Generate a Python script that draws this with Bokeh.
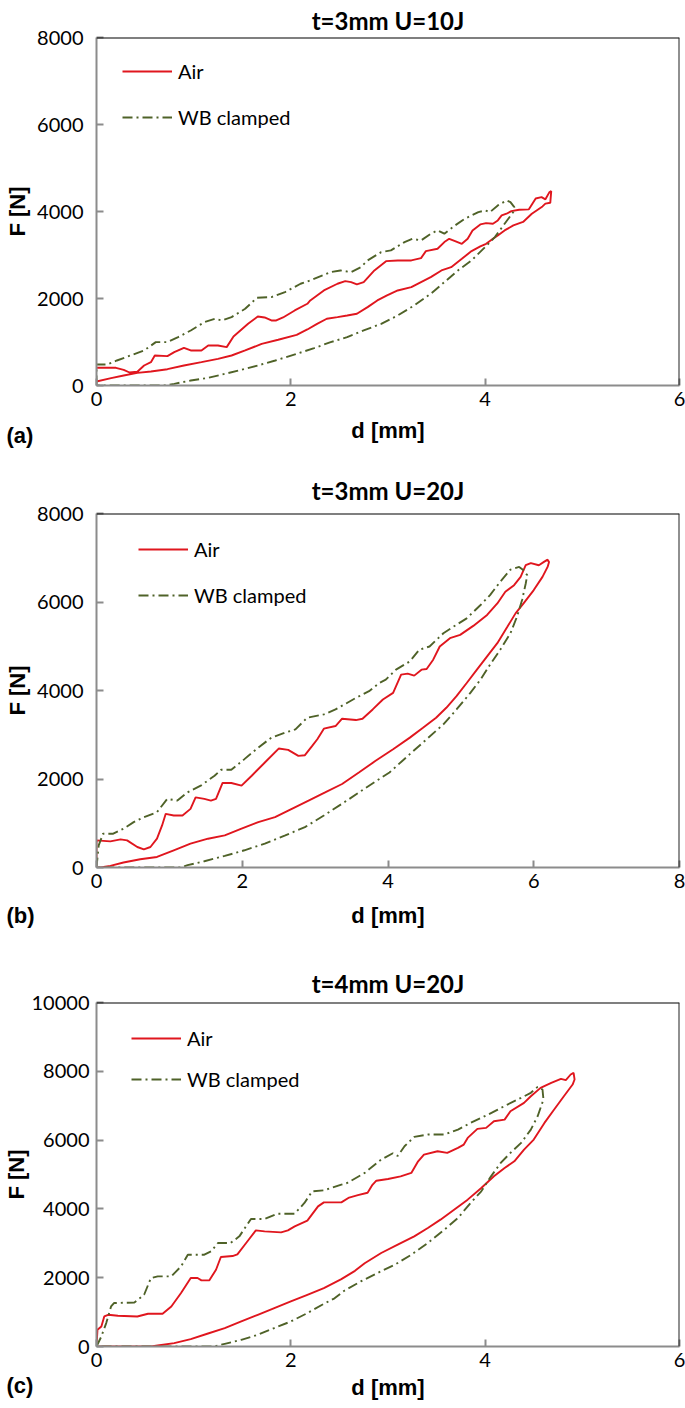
from bokeh.plotting import figure
from bokeh.layouts import column
from bokeh.models import (Range1d, FixedTicker, Legend, LegendItem, Span, Title,
                          NumeralTickFormatter)
from bokeh.embed import file_html
from bokeh.resources import INLINE

# ---------------- data ----------------
titles = ["t=3mm U=10J", "t=3mm U=20J", "t=4mm U=20J"]
tags = ["(a)", "(b)", "(c)"]
series_names = ["Air", "WB clamped"]
x_label = "d [mm]"
y_label = "F [N]"

a_x_ticks = [0, 2, 4, 6]
a_y_ticks = [0, 2000, 4000, 6000, 8000]
b_x_ticks = [0, 2, 4, 6, 8]
b_y_ticks = [0, 2000, 4000, 6000, 8000]
c_x_ticks = [0, 2, 4, 6]
c_y_ticks = [0, 2000, 4000, 6000, 8000, 10000]

a_air_d = [0, 0.20, 0.28, 0.34, 0.42, 0.49, 0.56, 0.60, 0.73, 0.80, 0.90, 0.97, 1.08, 1.15, 1.25, 1.34, 1.41, 1.56, 1.66, 1.73,
           1.80, 1.85, 1.92, 2.04, 2.17, 2.20, 2.34, 2.48, 2.56, 2.62, 2.68, 2.75, 2.86, 2.98, 3.10, 3.24, 3.34, 3.39, 3.51, 3.58,
           3.63, 3.69, 3.76, 3.82, 3.87, 3.95, 4.01, 4.08, 4.13, 4.17, 4.22, 4.27, 4.35, 4.45, 4.52, 4.58, 4.62, 4.66, 4.68, 4.67,
           4.62, 4.59, 4.48, 4.39, 4.29, 4.20, 4.13, 4.08, 4.01, 3.95, 3.86, 3.76, 3.65, 3.55, 3.44, 3.34, 3.24, 3.10, 2.99, 2.89,
           2.79, 2.68, 2.58, 2.48, 2.37, 2.27, 2.17, 2.06, 1.87, 1.70, 1.53, 1.39, 1.25, 1.08, 0.90, 0.73, 0.56, 0.42, 0.28, 0.15, 0]
a_air_F = [407, 407, 361, 299, 315, 460, 536, 690, 675, 766, 866, 805, 805, 920, 920, 882, 1127, 1418, 1587, 1564,
           1495, 1495, 1564, 1725, 1879, 1955, 2185, 2339, 2400, 2377, 2323, 2377, 2645, 2859, 2875, 2875, 2929, 3090, 3143, 3297,
           3373, 3320, 3258, 3373, 3565, 3703, 3733, 3718, 3795, 3910, 3949, 4009, 4040, 4050, 4300, 4330, 4280, 4440, 4470, 4200,
           4180, 4117, 3949, 3760, 3680, 3565, 3450, 3373, 3258, 3197, 3090, 2913, 2721, 2645, 2491, 2377, 2261, 2185, 2070, 1955,
           1802, 1649, 1610, 1572, 1534, 1418, 1288, 1165, 1051, 958, 805, 690, 613, 536, 460, 375, 322, 291, 230, 168, 92]

a_wb_d = [0, 0, 0.11, 0.21, 0.35, 0.49, 0.61, 0.73, 0.84, 0.97, 1.11, 1.22, 1.29, 1.39, 1.53, 1.65, 1.80, 1.94, 2.10, 2.20,
          2.41, 2.51, 2.62, 2.72, 2.79, 2.93, 3.03, 3.17, 3.25, 3.34, 3.44, 3.51, 3.58, 3.69, 3.79, 3.93, 4.00, 4.05, 4.13, 4.22,
          4.26, 4.30, 4.29, 4.20, 4.10, 4.00, 3.86, 3.72, 3.58, 3.44, 3.27, 3.10, 2.93, 2.75, 2.58, 2.41, 2.24, 2.06, 1.84, 1.66,
          1.49, 1.32, 1.15, 0.97, 0.80, 0.70, 0]
a_wb_F = [0, 483, 483, 575, 690, 805, 997, 997, 1112, 1265, 1457, 1534, 1495, 1572, 1764, 2016, 2032, 2147, 2339, 2415,
          2606, 2645, 2606, 2721, 2875, 3066, 3105, 3297, 3373, 3335, 3489, 3565, 3489, 3680, 3833, 3987, 4025, 3987, 4140, 4255,
          4217, 4100, 3990, 3718, 3412, 3182, 2875, 2645, 2376, 2109, 1840, 1610, 1418, 1265, 1112, 997, 859, 728, 575, 460,
          360, 268, 176, 115, 38, 0, 0]

b_air_d = [0, 0, 0.19, 0.33, 0.42, 0.56, 0.65, 0.74, 0.83, 0.90, 0.95, 1.06, 1.18, 1.29, 1.36, 1.48, 1.57, 1.64, 1.73, 1.85,
           1.99, 2.13, 2.31, 2.50, 2.63, 2.77, 2.86, 2.96, 3.03, 3.12, 3.28, 3.37, 3.56, 3.65, 3.79, 3.93, 4.07, 4.18, 4.27, 4.36,
           4.46, 4.53, 4.62, 4.71, 4.85, 4.99, 5.17, 5.36, 5.50, 5.61, 5.73, 5.82, 5.89, 5.96, 6.07, 6.14, 6.19, 6.21, 6.19, 6.12,
           6.00, 5.86, 5.75, 5.64, 5.50, 5.36, 5.22, 5.08, 4.94, 4.80, 4.66, 4.48, 4.30, 4.07, 3.83, 3.60, 3.37, 3.13, 2.91, 2.68,
           2.45, 2.22, 1.99, 1.76, 1.53, 1.29, 1.06, 0.83, 0.60, 0.37, 0.19, 0.05, 0]
b_air_F = [0, 613, 591, 636, 613, 463, 411, 463, 651, 951, 1213, 1176, 1176, 1325, 1586, 1550, 1512, 1550, 1910, 1910,
           1849, 2074, 2373, 2688, 2658, 2523, 2538, 2748, 2898, 3137, 3197, 3362, 3332, 3362, 3572, 3797, 3946, 4359, 4381, 4336,
           4471, 4486, 4696, 4995, 5182, 5257, 5460, 5707, 5968, 6231, 6381, 6568, 6831, 6880, 6831, 6906, 6957, 6906, 6793, 6568,
           6269, 5968, 5743, 5444, 5069, 4770, 4471, 4170, 3872, 3609, 3384, 3159, 2935, 2673, 2411, 2148, 1887, 1690, 1512, 1325,
           1137, 1025, 876, 726, 651, 539, 389, 238, 186, 112, 36, 0, 0]

b_wb_d = [0, 0.03, 0.09, 0.23, 0.37, 0.51, 0.65, 0.83, 0.97, 1.11, 1.25, 1.43, 1.62, 1.71, 1.85, 2.03, 2.22, 2.40, 2.59, 2.73,
          2.89, 3.12, 3.28, 3.56, 3.74, 3.88, 3.97, 4.11, 4.30, 4.43, 4.57, 4.76, 4.90, 5.08, 5.27, 5.40, 5.54, 5.68, 5.80, 5.86,
          5.91, 5.89, 5.84, 5.77, 5.68, 5.54, 5.40, 5.27, 5.13, 4.94, 4.76, 4.53, 4.30, 4.02, 3.74, 3.47, 3.12, 2.86, 2.59, 2.31,
          2.03, 1.76, 1.48, 1.25, 1.16, 0]
b_wb_F = [0, 501, 764, 764, 876, 1025, 1137, 1250, 1550, 1512, 1699, 1849, 2074, 2209, 2209, 2449, 2710, 2935, 3047, 3122,
          3384, 3460, 3572, 3833, 3984, 4170, 4245, 4471, 4658, 4921, 4995, 5294, 5444, 5631, 5932, 6157, 6456, 6732, 6793, 6718,
          6606, 6418, 6044, 5669, 5294, 4921, 4584, 4247, 3946, 3572, 3236, 2898, 2562, 2148, 1849, 1550, 1175, 912, 726, 539,
          389, 261, 142, 52, 0, 0]

c_air_d = [0, 0.01, 0.05, 0.08, 0.12, 0.22, 0.42, 0.53, 0.68, 0.77, 0.87, 0.97, 1.04, 1.08, 1.16, 1.23, 1.28, 1.40, 1.45, 1.54,
           1.64, 1.73, 1.90, 1.97, 2.04, 2.17, 2.28, 2.34, 2.52, 2.60, 2.69, 2.79, 2.84, 2.88, 3.00, 3.13, 3.24, 3.31, 3.37, 3.51,
           3.61, 3.72, 3.78, 3.82, 3.92, 4.01, 4.09, 4.20, 4.26, 4.40, 4.47, 4.57, 4.68, 4.78, 4.83, 4.88, 4.91, 4.92, 4.90, 4.81,
           4.71, 4.61, 4.50, 4.40, 4.30, 4.20, 4.09, 3.96, 3.82, 3.68, 3.54, 3.41, 3.27, 3.10, 2.93, 2.76, 2.66, 2.52, 2.34, 2.17,
           2.00, 1.83, 1.66, 1.49, 1.32, 1.14, 0.97, 0.80, 0.63, 0.56, 0]
c_air_F = [0, 486, 582, 873, 921, 893, 873, 951, 951, 1164, 1554, 1990, 1990, 1921, 1921, 2232, 2601, 2630, 2680, 3009,
           3376, 3346, 3317, 3376, 3492, 3658, 4074, 4190, 4190, 4330, 4400, 4470, 4700, 4820, 4870, 4947, 5046, 5384, 5578, 5676,
           5627, 5773, 5870, 6064, 6326, 6355, 6548, 6596, 6839, 7083, 7275, 7519, 7665, 7781, 7743, 7907, 7956, 7762, 7615, 7275,
           6888, 6500, 6015, 5724, 5384, 5191, 4947, 4609, 4269, 3978, 3687, 3445, 3201, 2959, 2718, 2420, 2200, 1960, 1699, 1504,
           1310, 1117, 922, 728, 535, 370, 215, 99, 29, 0, 0]

c_wb_d = [0, 0.05, 0.10, 0.15, 0.18, 0.39, 0.49, 0.56, 0.63, 0.77, 0.87, 0.94, 1.11, 1.18, 1.25, 1.38, 1.47, 1.59, 1.73, 1.86,
          2.04, 2.14, 2.22, 2.34, 2.52, 2.58, 2.76, 2.93, 3.05, 3.10, 3.17, 3.27, 3.41, 3.58, 3.72, 3.85, 4.03, 4.13, 4.23, 4.37,
          4.47, 4.54, 4.59, 4.60, 4.54, 4.47, 4.37, 4.26, 4.16, 4.06, 3.96, 3.85, 3.72, 3.58, 3.41, 3.24, 3.07, 2.89, 2.72, 2.55,
          2.45, 2.34, 2.17, 2.00, 1.83, 1.66, 1.49, 1.32, 1.21, 0]
c_wb_F = [0, 291, 681, 1164, 1263, 1280, 1504, 1990, 2038, 2038, 2328, 2668, 2668, 2765, 3009, 3009, 3202, 3707, 3707, 3861,
          3861, 4173, 4511, 4540, 4705, 4754, 5046, 5433, 5617, 5540, 5820, 6093, 6161, 6161, 6306, 6500, 6742, 6888, 7034, 7228,
          7374, 7548, 7470, 7179, 6693, 6306, 5919, 5628, 5337, 4947, 4511, 4173, 3736, 3396, 3009, 2668, 2377, 2135, 1892, 1620,
          1400, 1240, 971, 728, 535, 340, 195, 78, 0, 0]

# ---------------- styling ----------------
RED = "#e0161e"
GREEN = "#4f6228"
AXIS_GREY = "#8c8c8c"
TICK_FONT = "Lato"
BOLD_FONT = "Liberation Sans"
FIG_W = 685
B_LEFT = 96
B_RIGHT = 6


def make_panel(title, tag, air_d, air_F, wb_d, wb_F, xticks, yticks,
               height, b_top, b_bottom, title_standoff, leg_x, leg_top, leg_spacing,
               xtick_standoff, xlab_standoff, ytick_standoff, ylab_standoff, tag_standoff):
    xmax, ymax = xticks[-1], yticks[-1]
    p = figure(width=FIG_W, height=height, output_backend="svg", toolbar_location=None,
               x_range=Range1d(0, xmax), y_range=Range1d(0, ymax),
               min_border_left=B_LEFT, min_border_right=B_RIGHT,
               min_border_top=b_top, min_border_bottom=b_bottom,
               background_fill_color="white", border_fill_color="white")
    frame_h = height - b_top - b_bottom
    p.outline_line_color = None
    p.grid.visible = False

    p.xaxis.ticker = FixedTicker(ticks=xticks)
    p.yaxis.ticker = FixedTicker(ticks=yticks)
    p.xaxis.formatter = NumeralTickFormatter(format="0")
    p.yaxis.formatter = NumeralTickFormatter(format="0")
    for ax in (p.xaxis[0], p.yaxis[0]):
        ax.axis_line_color = AXIS_GREY
        ax.axis_line_width = 2
        ax.major_tick_line_color = AXIS_GREY
        ax.major_tick_line_width = 2
        ax.major_tick_in = 7
        ax.major_tick_out = 0
        ax.minor_tick_line_color = None
        ax.major_label_text_font = TICK_FONT
        ax.major_label_text_font_size = "20px"
        ax.major_label_text_color = "black"
        ax.axis_label_text_font = BOLD_FONT
        ax.axis_label_text_font_style = "bold"
        ax.axis_label_text_font_size = "22px"
        ax.axis_label_text_color = "black"
    p.xaxis.axis_label = x_label
    p.yaxis.axis_label = y_label
    p.yaxis.major_label_standoff = ytick_standoff
    p.yaxis.axis_label_standoff = ylab_standoff
    p.xaxis.major_label_standoff = xtick_standoff
    p.xaxis.axis_label_standoff = xlab_standoff

    # top and right frame edges
    p.add_layout(Span(location=ymax, dimension="width", line_color="black", line_width=2))
    p.add_layout(Span(location=xmax, dimension="height", line_color="#222222", line_width=2))

    r_air = p.line(air_d, air_F, line_color=RED, line_width=1.9)
    r_wb = p.line(wb_d, wb_F, line_color=GREEN, line_width=1.9, line_dash="10 4 2 4")

    item_h = 24
    leg_h = 2 * item_h + leg_spacing
    legend = Legend(items=[LegendItem(label=series_names[0], renderers=[r_air]),
                           LegendItem(label=series_names[1], renderers=[r_wb])],
                    location=(leg_x, frame_h - leg_top - leg_h),
                    orientation="vertical", spacing=leg_spacing, padding=0, margin=0,
                    border_line_color=None, background_fill_alpha=0,
                    label_text_font=TICK_FONT, label_text_font_size="20px",
                    label_text_color="black",
                    glyph_width=50, glyph_height=20, label_height=20, label_standoff=6)
    p.add_layout(legend)

    p.title.text = title
    p.title.align = "center"
    p.title.text_font = TICK_FONT
    p.title.text_font_size = "24px"
    p.title.text_font_style = "bold"
    p.title.text_color = "black"
    p.title.standoff = title_standoff

    tag_title = Title(text=tag, align="left", vertical_align="top", offset=-90,
                      standoff=tag_standoff,
                      text_font=BOLD_FONT, text_font_style="bold", text_font_size="22px",
                      text_color="black")
    p.add_layout(tag_title, "below")
    return p


pa = make_panel(titles[0], tags[0], a_air_d, a_air_F, a_wb_d, a_wb_F, a_x_ticks, a_y_ticks,
                height=462, b_top=37, b_bottom=77, title_standoff=5,
                leg_x=26, leg_top=22, leg_spacing=22,
                xtick_standoff=6, xlab_standoff=9, ytick_standoff=13, ylab_standoff=4,
                tag_standoff=-46)
pb = make_panel(titles[1], tags[1], b_air_d, b_air_F, b_wb_d, b_wb_F, b_x_ticks, b_y_ticks,
                height=498, b_top=51, b_bottom=93, title_standoff=18,
                leg_x=42, leg_top=24, leg_spacing=22,
                xtick_standoff=6, xlab_standoff=12, ytick_standoff=13, ylab_standoff=4,
                tag_standoff=-56)
pc = make_panel(titles[2], tags[2], c_air_d, c_air_F, c_wb_d, c_wb_F, c_x_ticks, c_y_ticks,
                height=446, b_top=42, b_bottom=60, title_standoff=10,
                leg_x=35, leg_top=24, leg_spacing=17,
                xtick_standoff=6, xlab_standoff=5, ytick_standoff=7, ylab_standoff=0,
                tag_standoff=-60)

layout = column(pa, pb, pc, spacing=0)
open("out.html", "w").write(file_html(layout, INLINE))
